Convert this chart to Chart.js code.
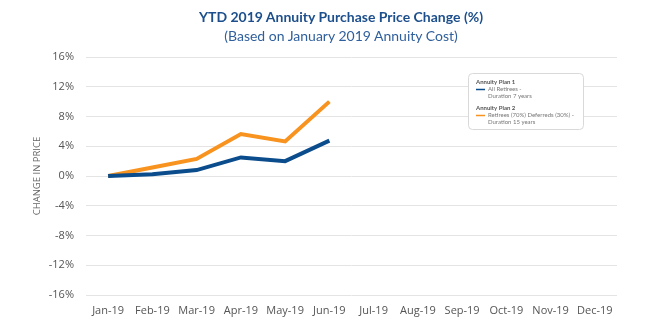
<!DOCTYPE html>
<html>
<head>
<meta charset="utf-8">
<script src="https://cdn.jsdelivr.net/npm/chart.js@4/dist/chart.umd.min.js"></script>
<style>
    html, body { margin: 0; padding: 0; background: #fff; }
    #wrapper { position: relative; width: 650px; height: 325px; }
    #Scheme { position: absolute; left: 0; top: 0; }
    .head { position: absolute; left: 0; width: 682px; text-align: center; font-family: Lato, sans-serif; font-size: 14px; white-space: nowrap; }
    #title { top: 8px; font-weight: bold; color: #1d4f8c; }
    #subtitle { top: 27px; color: #2f5f9c; }
</style>
</head>
<body>
<div id="wrapper">
    <canvas id="Scheme" width="650" height="325"></canvas>
    <div class="head" id="title">YTD 2019 Annuity Purchase Price Change (%)</div>
    <div class="head" id="subtitle">(Based on January 2019 Annuity Cost)</div>
</div>
<script>
let months = ['Jan-19', 'Feb-19', 'Mar-19', 'Apr-19', 'May-19', 'Jun-19', 'Jul-19', 'Aug-19', 'Sep-19', 'Oct-19', 'Nov-19', 'Dec-19'],
    plan1 = [0, 0.25, 0.8, 2.5, 2.0, 4.75, null, null, null, null, null, null],
    plan2 = [0, 1.15, 2.3, 5.65, 4.65, 10.0, null, null, null, null, null, null],
    groupNames = ['Annuity Plan 1', 'Annuity Plan 2'],
    seriesNames = [['All Retirees -', 'Duration 7 years'], ['Retirees (70%) Deferreds (30%) -', 'Duration 15 years']],
    yTicks = [-16, -12, -8, -4, 0, 4, 8, 12, 16],
    colors = ['#0b4c8c', '#f7931e'];

// boxed legend with a bold heading per plan
const planLegend = {
    id: 'planLegend',
    afterDraw(chart) {
        const ctx = chart.ctx,
            area = chart.chartArea,
            left = area.right - 149,
            top = area.top + 16,
            w = 115,
            h = 56;
        ctx.save();
        ctx.fillStyle = '#fff';
        ctx.strokeStyle = '#d9d9d9';
        ctx.lineWidth = 1;
        ctx.beginPath();
        ctx.roundRect(left + 0.5, top + 0.5, w, h, 4);
        ctx.fill();
        ctx.stroke();
        ctx.textBaseline = 'middle';
        ctx.textAlign = 'left';
        for (let i = 0; i < groupNames.length; i++) {
            let y = top + 9 + i * 26;
            ctx.font = 'bold 6px Lato';
            ctx.fillStyle = '#555';
            ctx.fillText(groupNames[i], left + 8, y);
            ctx.strokeStyle = chart.data.datasets[i].borderColor;
            ctx.lineWidth = 1.5;
            ctx.beginPath();
            ctx.moveTo(left + 8, y + 7.5);
            ctx.lineTo(left + 17, y + 7.5);
            ctx.stroke();
            ctx.font = '6px Lato';
            ctx.fillStyle = '#777';
            ctx.fillText(seriesNames[i][0], left + 20, y + 7);
            ctx.fillText(seriesNames[i][1], left + 20, y + 14);
        }
        ctx.restore();
    }
};

const ctx = document.getElementById('Scheme').getContext('2d');
const chart = new Chart(ctx, {
    type: 'line',
    data: {
        labels: months,
        datasets: [{
            label: groupNames[0],
            data: plan1,
            borderColor: colors[0],
            backgroundColor: colors[0],
            borderWidth: 4,
            pointRadius: 0,
            tension: 0
        }, {
            label: groupNames[1],
            data: plan2,
            borderColor: colors[1],
            backgroundColor: colors[1],
            borderWidth: 4,
            pointRadius: 0,
            tension: 0
        }]
    },
    options: {
        responsive: false,
        animation: false,
        layout: { padding: { left: 32, right: 33, top: 57, bottom: 8 } },
        plugins: {
            legend: { display: false },
            tooltip: { enabled: false }
        },
        scales: {
            x: {
                offset: true,
                afterFit: axis => { axis.height = 22; },
                grid: { display: false, drawTicks: false },
                border: { display: false },
                ticks: { color: '#555', padding: 9, maxRotation: 0, autoSkip: false, font: { family: 'Open Sans', size: 11 } }
            },
            y: {
                min: -16,
                max: 16,
                afterBuildTicks: axis => { axis.ticks = yTicks.map(v => ({ value: v })); },
                afterFit: axis => { axis.width = 54; },
                grid: { color: '#e4e4e4', drawTicks: false },
                border: { display: false },
                ticks: { color: '#555', padding: 12, font: { family: 'Open Sans', size: 11 }, callback: v => v + '%' },
                title: { display: true, text: 'CHANGE IN PRICE', color: '#666', padding: { top: 0, bottom: 0 }, font: { family: 'Open Sans', size: 9.5 } }
            }
        }
    },
    plugins: [planLegend]
});
</script>
</body>
</html>
